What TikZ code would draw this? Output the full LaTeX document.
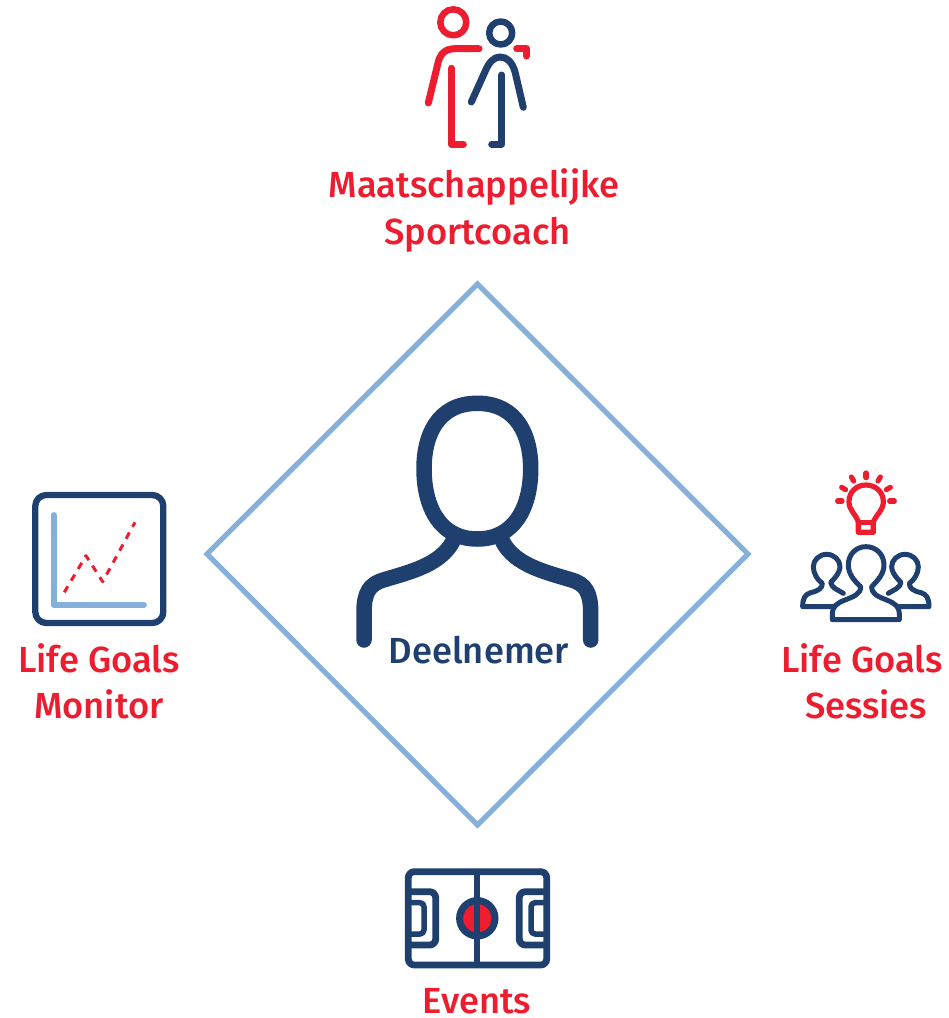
\documentclass[tikz,border=0pt]{standalone}
\usepackage{fontspec}
\setmainfont{Fira Sans Medium}
\definecolor{navy}{HTML}{1F3F6E}
\definecolor{lgred}{HTML}{ED1C2E}
\definecolor{sky}{HTML}{85B0DA}
\tikzset{
  label/.style={text=lgred,font=\fontsize{36.3}{36.3}\selectfont,inner sep=0pt,anchor=center},
  dark/.style={draw=navy,line cap=round,line join=round},
  hot/.style={draw=lgred,line cap=round,line join=round},
}
\begin{document}
\begin{tikzpicture}[x=1pt,y=-1pt]
\useasboundingbox (0,0) rectangle (949,1018);
% diamond
\draw[sky,line width=5.2pt,line join=miter] (477.5,284) -- (748,554) -- (477.5,825) -- (207,554) -- cycle;
% central person
\draw[dark,line width=15.5pt] (477.3,403.3) .. controls (518,403.3) and (530.7,437) .. (530.7,468.3) .. controls (530.7,508) and (514,539) .. (477.3,539) .. controls (440.6,539) and (424,508) .. (424,468.3) .. controls (424,437) and (436.6,403.3) .. (477.3,403.3) -- cycle;
\draw[dark,line width=15.5pt,line cap=round] (452.7,541.7) .. controls (440,565) and (410,572) .. (383.3,580) .. controls (370,584) and (364,592) .. (364,612) -- (364,640);
\draw[dark,line width=15.5pt,line cap=round] (502.7,541.7) .. controls (515,565) and (545,572) .. (571.7,580) .. controls (585,584) and (590.7,592) .. (590.7,612) -- (590.7,640);
\node[text=navy,font=\fontsize{36.3}{36.3}\selectfont,inner sep=0pt] (deelnemer) at (479,650) {Deelnemer};
% coach icon
\draw[hot,line width=6.5pt] (453.3,22.3) circle (13);
\draw[hot,line width=7pt] (479,48.7) -- (455,48.7) .. controls (445,48.7) and (440,54) .. (438,63) -- (428.3,103);
\draw[hot,line width=7pt] (451.7,68.3) -- (451.7,144.3) -- (463.3,144.3);
\draw[hot,line width=7pt] (516.7,48.7) -- (526.7,48.7) -- (526.7,56);
\draw[dark,line width=6.5pt] (500.7,33) circle (11.5);
\draw[dark,line width=7pt] (471.3,102) -- (485,71.7) .. controls (489,62) and (494,57) .. (500,57) .. controls (507,57) and (512,62) .. (515,71.7) -- (523.3,107.3);
\draw[dark,line width=7pt] (501.7,75) -- (501.7,144.3) -- (491.7,144.3);
\node[label] (coachA) at (474,187) {Maatschappelijke};
\node[label] (coachB) at (477.5,234.5) {Sportcoach};
% monitor icon
\draw[dark,line width=6.3pt,rounded corners=11pt] (35.3,495) rectangle (163.3,623);
\draw[sky,line width=5.8pt,line cap=round,line join=round] (53.7,515) -- (53.7,605) -- (144,605);
\draw[hot,line width=3pt,line cap=butt,dash pattern=on 7pt off 6.6pt] (64.3,592.3) -- (86,555.7) -- (102.7,581.7) -- (135,522.3);
\node[label] (monA) at (99,658) {Life Goals};
\node[label] (monB) at (99,704) {Monitor};
% sessions icon
\begin{scope}[shift={(790,465)},x=0.3333pt,y=-0.3333pt]
\draw[hot,line width=5.2pt] (228,24) -- (228,38);
\draw[hot,line width=5.2pt] (184,36) -- (191,48);
\draw[hot,line width=5.2pt] (271,36) -- (264,48);
\draw[hot,line width=5.2pt] (155,67) -- (167,74);
\draw[hot,line width=5.2pt] (301,67) -- (289,74);
\draw[hot,line width=5.2pt] (143,108) -- (156,108);
\draw[hot,line width=5.2pt] (313,108) -- (299,108);
\draw[hot,line width=5.2pt] (205,170) .. controls (195,145) and (177,135) .. (177,110) .. controls (177,80) and (200,60) .. (228,60) .. controls (256,60) and (280,80) .. (280,110) .. controls (280,135) and (262,145) .. (250,170) -- (250,202) -- (205,202) -- cycle;
\draw[hot,line width=5.2pt] (205,172) -- (250,172);
\draw[dark,line width=5pt] (160,385) .. controls (145,375) and (125,370) .. (122,352) .. controls (145,330) and (150,315) .. (150,305) .. controls (150,285) and (132,268) .. (110,268) .. controls (88,268) and (70,285) .. (70,305) .. controls (70,325) and (82,345) .. (97,355) .. controls (97,370) and (85,378) .. (62,383) .. controls (45,388) and (38,400) .. (38,425) -- (128,425);
\draw[dark,line width=5pt] (295,385) .. controls (310,375) and (330,370) .. (333,352) .. controls (310,330) and (305,315) .. (305,305) .. controls (305,285) and (323,268) .. (345,268) .. controls (367,268) and (385,285) .. (385,305) .. controls (385,325) and (373,345) .. (358,355) .. controls (358,370) and (370,378) .. (393,383) .. controls (410,388) and (417,400) .. (417,425) -- (327,425);
\draw[dark,line width=5pt,fill=white] (127,464) -- (127,445) .. controls (127,425) and (140,415) .. (165,405) .. controls (190,395) and (212,388) .. (212,365) .. controls (190,345) and (175,325) .. (175,300) .. controls (175,268) and (198,245) .. (228,245) .. controls (258,245) and (282,268) .. (282,300) .. controls (282,325) and (265,345) .. (245,365) .. controls (245,388) and (265,395) .. (290,405) .. controls (315,415) and (328,425) .. (328,445) -- (328,464) -- cycle;
\end{scope}
\node[label] (sesA) at (862,658) {Life Goals};
\node[label] (sesB) at (866,704) {Sessies};
% events icon
\draw[dark,line width=6.8pt,rounded corners=6pt] (408.3,871.7) rectangle (546.7,965);
\draw[dark,line width=6.8pt,rounded corners=6pt,line cap=butt] (408.3,891.7) -- (435.7,891.7) -- (435.7,945) -- (408.3,945);
\draw[dark,line width=5.5pt,rounded corners=4pt,line cap=butt] (408.3,902.7) -- (424,902.7) -- (424,934) -- (408.3,934);
\draw[dark,line width=6.8pt,rounded corners=6pt,line cap=butt] (546.7,891.7) -- (519.3,891.7) -- (519.3,945) -- (546.7,945);
\draw[dark,line width=5.5pt,rounded corners=4pt,line cap=butt] (546.7,902.7) -- (531,902.7) -- (531,934) -- (546.7,934);
\draw[navy,fill=lgred,line width=7pt] (477.3,918.3) circle (17.7);
\draw[dark,line width=5.8pt] (477.3,871.7) -- (477.3,965);
\node[label] (events) at (477,1001) {Events};
\end{tikzpicture}
\end{document}
